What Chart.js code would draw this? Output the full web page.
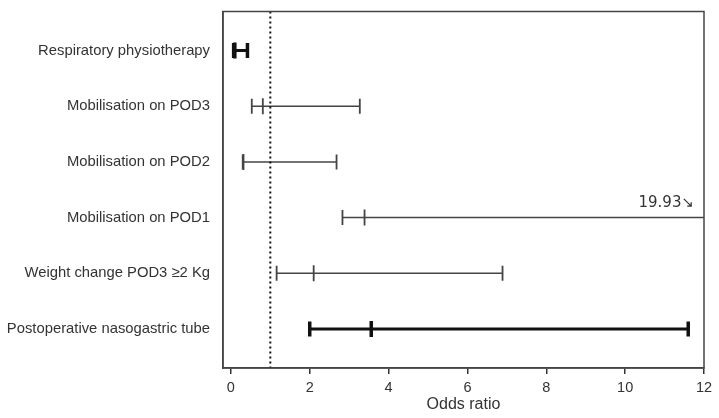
<!DOCTYPE html>
<html>
<head>
<meta charset="utf-8">
<script src="https://cdn.jsdelivr.net/npm/chart.js@4/dist/chart.umd.min.js"></script>
<style>
  html, body { margin: 0; padding: 0; background: #fff; }
  #wrap { width: 719px; height: 418px; }
</style>
</head>
<body>
<div id="wrap"><canvas id="forest"></canvas></div>
<script>
// data
var categories = ["Respiratory physiotherapy", "Mobilisation on POD3", "Mobilisation on POD2",
                  "Mobilisation on POD1", "Weight change POD3 \u22652 Kg", "Postoperative nasogastric tube"];
var oddsRatio = [0.10, 0.81, 0.32, 3.39, 2.10, 3.56];
var lowerCI   = [0.07, 0.53, 0.30, 2.83, 1.16, 2.00];
var upperCI   = [0.42, 3.27, 2.68, 19.93, 6.89, 11.60];
var bold      = [true, false, false, false, false, true];
var xTicks    = [0, 2, 4, 6, 8, 10, 12];
var refLine   = 1;

var datasets = [];

// dotted reference line at OR = 1
datasets.push({
  type: 'line',
  data: [{x: refLine, y: -0.7}, {x: refLine, y: 5.7}],
  borderColor: '#111',
  borderWidth: 2,
  borderDash: [2, 3],
  pointRadius: 0
});

// CI lines with caps
for (var i = 0; i < categories.length; i++) {
  datasets.push({
    type: 'line',
    data: [{x: lowerCI[i], y: i}, {x: upperCI[i], y: i}],
    borderColor: bold[i] ? '#111' : '#444',
    borderWidth: bold[i] ? 3 : 1.5,
    pointStyle: 'line',
    rotation: 90,
    pointRadius: 7.5,
    pointBorderWidth: bold[i] ? 3.5 : 1.8,
    pointBorderColor: bold[i] ? '#111' : '#444'
  });
}

// odds ratio markers
datasets.push({
  type: 'scatter',
  data: oddsRatio.map(function (v, i) { return {x: v, y: i}; }),
  pointStyle: 'line',
  rotation: 90,
  pointRadius: 8,
  borderColor: bold.map(function (b) { return b ? '#111' : '#444'; }),
  pointBorderWidth: bold.map(function (b) { return b ? 3.5 : 1.8; })
});

// box around the plot + label for the cut-off upper limit
var frame = {
  id: 'frame',
  afterDraw: function (chart) {
    var c = chart.ctx, a = chart.chartArea;
    c.save();
    c.strokeStyle = '#444';
    c.lineWidth = 1.5;
    c.strokeRect(a.left, a.top, a.right - a.left, a.bottom - a.top);
    // upper limit beyond the axis
    var y = chart.scales.y.getPixelForValue(3);
    c.fillStyle = '#333';
    c.font = '15px "DejaVu Sans"';
    c.textAlign = 'right';
    c.textBaseline = 'bottom';
    c.fillText(upperCI[3].toFixed(2) + '\u2198', a.right - 10, y - 7);
    c.restore();
  }
};

new Chart(document.getElementById('forest'), {
  type: 'scatter',
  data: { datasets: datasets },
  plugins: [frame],
  options: {
    responsive: true,
    maintainAspectRatio: false,
    animation: false,
    layout: { padding: { top: 7, right: 15, left: 0, bottom: 0 } },
    plugins: { legend: { display: false }, tooltip: { enabled: false } },
    scales: {
      x: {
        type: 'linear',
        min: -0.2,
        max: 12,
        afterBuildTicks: function (s) { s.ticks = xTicks.map(function (v) { return {value: v}; }); },
        afterFit: function (s) { s.height = 50; },
        grid: { drawOnChartArea: false, drawTicks: true, tickLength: 6, color: '#333', lineWidth: 1.5 },
        border: { display: true, color: '#444', width: 1.5 },
        ticks: { color: '#333', font: { family: 'Liberation Sans', size: 14.5 }, padding: 5 },
        title: { display: true, text: 'Odds ratio', color: '#333', font: { family: 'Liberation Sans', size: 16 }, padding: { top: 2 } }
      },
      y: {
        type: 'linear',
        reverse: true,
        min: -0.7,
        max: 5.7,
        afterBuildTicks: function (s) { s.ticks = categories.map(function (c, i) { return {value: i}; }); },
        afterFit: function (s) { s.width = 223; s.paddingTop = 0; s.paddingBottom = 0; },
        grid: { display: false },
        border: { display: true, color: '#444', width: 1.5 },
        ticks: {
          color: '#333',
          font: { family: 'Liberation Sans', size: 14.8 },
          padding: 5,
          callback: function (v) { return categories[v]; }
        }
      }
    }
  }
});
</script>
</body>
</html>
